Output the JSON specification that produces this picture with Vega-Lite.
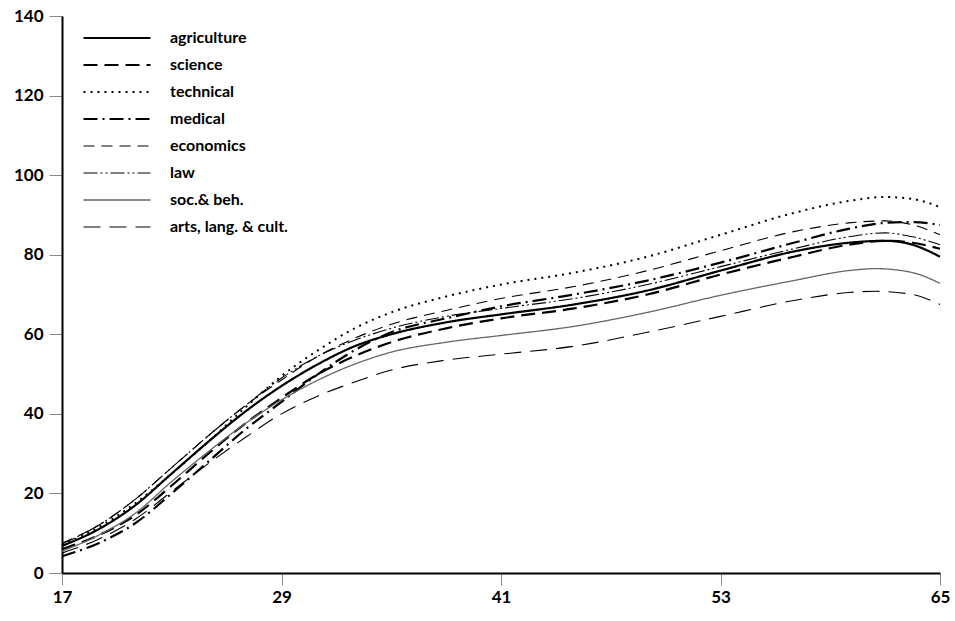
{
  "$schema": "https://vega.github.io/schema/vega-lite/v6.json",
  "width": 878,
  "height": 557,
  "autosize": {"type": "none"},
  "padding": {"left": 62, "top": 16, "right": 15, "bottom": 48},
  "background": "white",
  "config": {
    "view": {"stroke": null},
    "font": "Lato",
    "axis": {"grid": false}
  },
  "datasets": {
    "curves": [
      {"f": "agriculture", "a": 17, "v": 6.8}, {"f": "agriculture", "a": 19, "v": 11}, {"f": "agriculture", "a": 21, "v": 17}, {"f": "agriculture", "a": 23, "v": 25}, {"f": "agriculture", "a": 25, "v": 33}, {"f": "agriculture", "a": 27, "v": 40.5}, {"f": "agriculture", "a": 29, "v": 47}, {"f": "agriculture", "a": 31, "v": 52.5}, {"f": "agriculture", "a": 33, "v": 57}, {"f": "agriculture", "a": 35, "v": 60}, {"f": "agriculture", "a": 38, "v": 63}, {"f": "agriculture", "a": 41, "v": 65}, {"f": "agriculture", "a": 45, "v": 67.5}, {"f": "agriculture", "a": 49, "v": 71}, {"f": "agriculture", "a": 53, "v": 76}, {"f": "agriculture", "a": 57, "v": 80.8}, {"f": "agriculture", "a": 60, "v": 83}, {"f": "agriculture", "a": 62, "v": 83.5}, {"f": "agriculture", "a": 63.5, "v": 82.5}, {"f": "agriculture", "a": 65, "v": 79.5},

      {"f": "science", "a": 17, "v": 6}, {"f": "science", "a": 19, "v": 9.5}, {"f": "science", "a": 21, "v": 14.5}, {"f": "science", "a": 23, "v": 22}, {"f": "science", "a": 25, "v": 30}, {"f": "science", "a": 27, "v": 37.5}, {"f": "science", "a": 29, "v": 44}, {"f": "science", "a": 31, "v": 50}, {"f": "science", "a": 33, "v": 54.5}, {"f": "science", "a": 35, "v": 58}, {"f": "science", "a": 38, "v": 61.5}, {"f": "science", "a": 41, "v": 64}, {"f": "science", "a": 45, "v": 66.5}, {"f": "science", "a": 49, "v": 70}, {"f": "science", "a": 53, "v": 75}, {"f": "science", "a": 57, "v": 79.5}, {"f": "science", "a": 60, "v": 82.5}, {"f": "science", "a": 62, "v": 83.5}, {"f": "science", "a": 63.5, "v": 83}, {"f": "science", "a": 65, "v": 81.5},

      {"f": "technical", "a": 17, "v": 7}, {"f": "technical", "a": 19, "v": 11.5}, {"f": "technical", "a": 21, "v": 17.5}, {"f": "technical", "a": 23, "v": 25}, {"f": "technical", "a": 25, "v": 33}, {"f": "technical", "a": 27, "v": 41.5}, {"f": "technical", "a": 29, "v": 49.5}, {"f": "technical", "a": 31, "v": 56}, {"f": "technical", "a": 33, "v": 61.5}, {"f": "technical", "a": 35, "v": 65.5}, {"f": "technical", "a": 38, "v": 69.5}, {"f": "technical", "a": 41, "v": 72.5}, {"f": "technical", "a": 45, "v": 75.5}, {"f": "technical", "a": 49, "v": 79.5}, {"f": "technical", "a": 53, "v": 85}, {"f": "technical", "a": 57, "v": 90.5}, {"f": "technical", "a": 60, "v": 93.5}, {"f": "technical", "a": 62, "v": 94.5}, {"f": "technical", "a": 63.5, "v": 94}, {"f": "technical", "a": 65, "v": 92},

      {"f": "medical", "a": 17, "v": 4.2}, {"f": "medical", "a": 19, "v": 7.5}, {"f": "medical", "a": 21, "v": 12.5}, {"f": "medical", "a": 23, "v": 20}, {"f": "medical", "a": 25, "v": 28}, {"f": "medical", "a": 27, "v": 36}, {"f": "medical", "a": 29, "v": 43}, {"f": "medical", "a": 31, "v": 50}, {"f": "medical", "a": 33, "v": 56}, {"f": "medical", "a": 35, "v": 60.5}, {"f": "medical", "a": 38, "v": 64}, {"f": "medical", "a": 41, "v": 67}, {"f": "medical", "a": 45, "v": 70}, {"f": "medical", "a": 49, "v": 73.5}, {"f": "medical", "a": 53, "v": 78}, {"f": "medical", "a": 57, "v": 83}, {"f": "medical", "a": 60, "v": 86.5}, {"f": "medical", "a": 62, "v": 88}, {"f": "medical", "a": 63.5, "v": 88.2}, {"f": "medical", "a": 65, "v": 87.5},

      {"f": "economics", "a": 17, "v": 7.5}, {"f": "economics", "a": 19, "v": 12}, {"f": "economics", "a": 21, "v": 18.5}, {"f": "economics", "a": 23, "v": 26.5}, {"f": "economics", "a": 25, "v": 34.5}, {"f": "economics", "a": 27, "v": 42}, {"f": "economics", "a": 29, "v": 48.5}, {"f": "economics", "a": 31, "v": 54.5}, {"f": "economics", "a": 33, "v": 59}, {"f": "economics", "a": 35, "v": 62.5}, {"f": "economics", "a": 38, "v": 66}, {"f": "economics", "a": 41, "v": 69}, {"f": "economics", "a": 45, "v": 72}, {"f": "economics", "a": 49, "v": 76}, {"f": "economics", "a": 53, "v": 81}, {"f": "economics", "a": 57, "v": 85.8}, {"f": "economics", "a": 60, "v": 88}, {"f": "economics", "a": 62, "v": 88.5}, {"f": "economics", "a": 63.5, "v": 87.5}, {"f": "economics", "a": 65, "v": 85},

      {"f": "law", "a": 17, "v": 7.3}, {"f": "law", "a": 19, "v": 12}, {"f": "law", "a": 21, "v": 18.5}, {"f": "law", "a": 23, "v": 26.5}, {"f": "law", "a": 25, "v": 34.5}, {"f": "law", "a": 27, "v": 42}, {"f": "law", "a": 29, "v": 49}, {"f": "law", "a": 31, "v": 54.5}, {"f": "law", "a": 33, "v": 58.5}, {"f": "law", "a": 35, "v": 61.5}, {"f": "law", "a": 38, "v": 64.5}, {"f": "law", "a": 41, "v": 66.5}, {"f": "law", "a": 45, "v": 69}, {"f": "law", "a": 49, "v": 72.5}, {"f": "law", "a": 53, "v": 77}, {"f": "law", "a": 57, "v": 81.5}, {"f": "law", "a": 60, "v": 84.5}, {"f": "law", "a": 62, "v": 85.5}, {"f": "law", "a": 63.5, "v": 84.5}, {"f": "law", "a": 65, "v": 82.5},

      {"f": "soc.& beh.", "a": 17, "v": 5.5}, {"f": "soc.& beh.", "a": 19, "v": 9.5}, {"f": "soc.& beh.", "a": 21, "v": 15}, {"f": "soc.& beh.", "a": 23, "v": 23}, {"f": "soc.& beh.", "a": 25, "v": 30.5}, {"f": "soc.& beh.", "a": 27, "v": 37.5}, {"f": "soc.& beh.", "a": 29, "v": 43.5}, {"f": "soc.& beh.", "a": 31, "v": 48.5}, {"f": "soc.& beh.", "a": 33, "v": 52.5}, {"f": "soc.& beh.", "a": 35, "v": 55.5}, {"f": "soc.& beh.", "a": 38, "v": 58}, {"f": "soc.& beh.", "a": 41, "v": 59.7}, {"f": "soc.& beh.", "a": 45, "v": 62}, {"f": "soc.& beh.", "a": 49, "v": 65.5}, {"f": "soc.& beh.", "a": 53, "v": 69.8}, {"f": "soc.& beh.", "a": 57, "v": 73.5}, {"f": "soc.& beh.", "a": 60, "v": 76}, {"f": "soc.& beh.", "a": 61.5, "v": 76.5}, {"f": "soc.& beh.", "a": 63.5, "v": 75.5}, {"f": "soc.& beh.", "a": 65, "v": 72.8},

      {"f": "arts, lang. & cult.", "a": 17, "v": 5}, {"f": "arts, lang. & cult.", "a": 19, "v": 8.5}, {"f": "arts, lang. & cult.", "a": 21, "v": 13.5}, {"f": "arts, lang. & cult.", "a": 23, "v": 20.5}, {"f": "arts, lang. & cult.", "a": 25, "v": 27.5}, {"f": "arts, lang. & cult.", "a": 27, "v": 34}, {"f": "arts, lang. & cult.", "a": 29, "v": 40}, {"f": "arts, lang. & cult.", "a": 31, "v": 44.5}, {"f": "arts, lang. & cult.", "a": 33, "v": 48}, {"f": "arts, lang. & cult.", "a": 35, "v": 51}, {"f": "arts, lang. & cult.", "a": 38, "v": 53.5}, {"f": "arts, lang. & cult.", "a": 41, "v": 55}, {"f": "arts, lang. & cult.", "a": 45, "v": 57}, {"f": "arts, lang. & cult.", "a": 49, "v": 60.5}, {"f": "arts, lang. & cult.", "a": 53, "v": 64.5}, {"f": "arts, lang. & cult.", "a": 57, "v": 68.5}, {"f": "arts, lang. & cult.", "a": 60, "v": 70.5}, {"f": "arts, lang. & cult.", "a": 61.5, "v": 70.8}, {"f": "arts, lang. & cult.", "a": 63.5, "v": 70}, {"f": "arts, lang. & cult.", "a": 65, "v": 67.5}
    ]
  },
  "data": {"name": "curves"},
  "mark": {"type": "line", "interpolate": "monotone"},
  "encoding": {
    "x": {
      "field": "a", "type": "quantitative",
      "scale": {"domain": [17, 65], "nice": false, "zero": false},
      "axis": {
        "values": [17, 29, 41, 53, 65], "title": null,
        "domainColor": "black", "domainWidth": 2,
        "tickColor": "#888", "tickWidth": 1, "tickSize": 12,
        "labelFont": "Lato", "labelFontWeight": "bold", "labelFontSize": 17, "labelColor": "black",
        "labelPadding": 4, "labelFlush": false
      }
    },
    "y": {
      "field": "v", "type": "quantitative",
      "scale": {"domain": [0, 140], "nice": false},
      "axis": {
        "values": [0, 20, 40, 60, 80, 100, 120, 140], "title": null,
        "domainColor": "black", "domainWidth": 2,
        "tickColor": "#888", "tickWidth": 1, "tickSize": 13,
        "labelFont": "Lato", "labelFontWeight": "bold", "labelFontSize": 17, "labelColor": "black",
        "labelPadding": 6
      }
    },
    "color": {
      "field": "f", "type": "nominal",
      "scale": {
        "domain": ["agriculture", "science", "technical", "medical", "economics", "law", "soc.& beh.", "arts, lang. & cult."],
        "range": ["black", "black", "black", "black", "black", "black", "#666666", "black"]
      },
      "legend": {
        "title": null, "orient": "none", "legendX": 47, "legendY": 14,
        "symbolType": "M-6.7,0H6.7", "symbolSize": 100,
        "labelOffset": 45, "rowPadding": 11,
        "labelFont": "Lato", "labelFontWeight": "bold", "labelFontSize": 16, "labelColor": "black",
        "padding": 0
      }
    },
    "strokeDash": {
      "field": "f", "type": "nominal",
      "scale": {
        "domain": ["agriculture", "science", "technical", "medical", "economics", "law", "soc.& beh.", "arts, lang. & cult."],
        "range": [[1, 0], [14, 7], [2, 5], [14, 5, 2, 5], [11, 7], [14, 3, 2, 3, 2, 3], [1, 0], [17, 9]]
      }
    },
    "strokeWidth": {
      "field": "f", "type": "nominal",
      "scale": {
        "type": "ordinal",
        "domain": ["agriculture", "science", "technical", "medical", "economics", "law", "soc.& beh.", "arts, lang. & cult."],
        "range": [2.2, 2.2, 2, 2.2, 1.1, 1.1, 1.3, 1.1]
      }
    }
  }
}
